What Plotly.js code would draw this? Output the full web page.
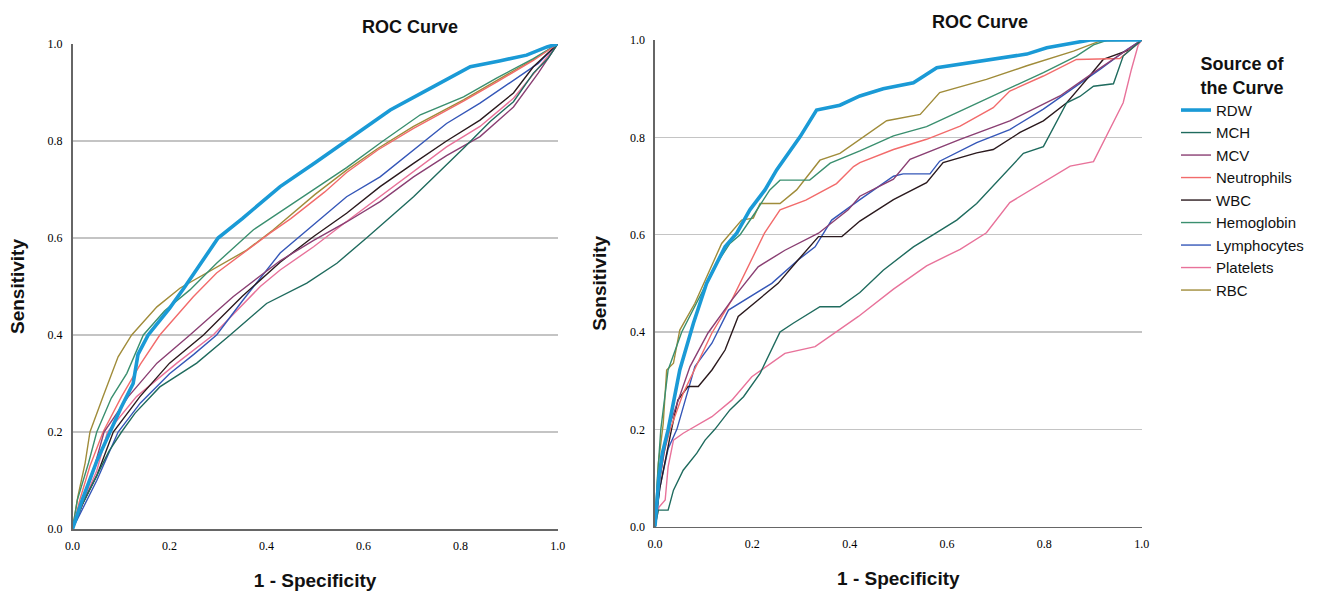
<!DOCTYPE html>
<html>
<head>
<meta charset="utf-8">
<script src="https://cdn.plot.ly/plotly-3.0.1.min.js"></script>
<style>html,body{margin:0;padding:0;background:#fff;}#chart{width:1328px;height:596px;}</style>
</head>
<body>
<div id="chart"></div>
<script>
// ---------- DATA ----------
const seriesNames = ["RDW","MCH","MCV","Neutrophils","WBC","Hemoglobin","Lymphocytes","Platelets","RBC"];
const tickLabels = ["0.0","0.2","0.4","0.6","0.8","1.0"];
const tickValues = [0,0.2,0.4,0.6,0.8,1.0];
const gridValues = [0.2,0.4,0.6,0.8];

// Left panel (1 - specificity, sensitivity)
const L_RDW_x = [0,0.02,0.05,0.077,0.1,0.125,0.135,0.156,0.2,0.232,0.26,0.3,0.35,0.428,0.5,0.565,0.655,0.744,0.82,0.88,0.936,0.978,1];
const L_RDW_y = [0,0.06,0.14,0.2,0.25,0.3,0.36,0.4,0.455,0.5,0.54,0.6,0.64,0.706,0.755,0.8,0.864,0.912,0.953,0.965,0.977,0.994,1];
const L_MCH_x = [0,0.02,0.05,0.075,0.101,0.129,0.18,0.256,0.325,0.40,0.483,0.545,0.606,0.703,0.806,0.861,0.909,0.95,0.98,1];
const L_MCH_y = [0,0.05,0.11,0.16,0.2,0.239,0.293,0.342,0.4,0.465,0.507,0.548,0.6,0.685,0.785,0.84,0.881,0.94,0.97,1];
const L_MCV_x = [0,0.02,0.04,0.065,0.115,0.174,0.242,0.331,0.428,0.497,0.565,0.634,0.703,0.771,0.84,0.909,0.96,1];
const L_MCV_y = [0,0.05,0.11,0.2,0.273,0.342,0.4,0.479,0.553,0.595,0.633,0.675,0.726,0.77,0.809,0.87,0.94,1];
const L_Neu_x = [0,0.015,0.036,0.063,0.101,0.14,0.18,0.249,0.297,0.359,0.407,0.45,0.52,0.565,0.63,0.703,0.806,0.875,0.95,1];
const L_Neu_y = [0,0.06,0.13,0.2,0.273,0.34,0.4,0.479,0.528,0.575,0.61,0.64,0.695,0.735,0.782,0.826,0.882,0.922,0.966,1];
const L_WBC_x = [0,0.02,0.05,0.084,0.139,0.2,0.27,0.35,0.428,0.497,0.565,0.634,0.703,0.771,0.84,0.909,0.95,1];
const L_WBC_y = [0,0.05,0.11,0.2,0.273,0.342,0.4,0.48,0.55,0.603,0.651,0.706,0.754,0.80,0.843,0.899,0.953,1];
const L_Hgb_x = [0,0.01,0.033,0.05,0.08,0.112,0.146,0.19,0.242,0.297,0.373,0.428,0.497,0.565,0.64,0.717,0.806,0.875,0.95,1];
const L_Hgb_y = [0,0.06,0.136,0.2,0.27,0.321,0.4,0.45,0.493,0.548,0.617,0.654,0.70,0.745,0.8,0.854,0.891,0.93,0.97,1];
const L_Lym_x = [0,0.02,0.05,0.094,0.14,0.2,0.25,0.297,0.35,0.428,0.497,0.565,0.634,0.703,0.771,0.84,0.909,0.96,1];
const L_Lym_y = [0,0.04,0.1,0.2,0.26,0.32,0.36,0.4,0.47,0.569,0.627,0.685,0.726,0.781,0.836,0.878,0.926,0.96,1];
const L_Plt_x = [0,0.02,0.05,0.072,0.132,0.215,0.29,0.387,0.428,0.497,0.565,0.634,0.703,0.771,0.84,0.909,0.96,1];
const L_Plt_y = [0,0.05,0.12,0.2,0.273,0.342,0.4,0.50,0.534,0.582,0.634,0.685,0.737,0.788,0.83,0.888,0.95,1];
const L_RBC_x = [0,0.011,0.026,0.036,0.063,0.094,0.122,0.174,0.222,0.277,0.359,0.414,0.5,0.565,0.63,0.703,0.806,0.875,0.95,1];
const L_RBC_y = [0,0.067,0.136,0.2,0.273,0.355,0.4,0.458,0.497,0.528,0.575,0.617,0.69,0.74,0.785,0.83,0.885,0.925,0.968,1];

// Right panel
const R_RDW_x = [0,0.008,0.015,0.027,0.051,0.079,0.106,0.144,0.168,0.195,0.226,0.25,0.298,0.332,0.38,0.421,0.469,0.531,0.579,0.654,0.764,0.805,0.894,1];
const R_RDW_y = [0,0.1,0.15,0.199,0.322,0.418,0.5,0.575,0.603,0.651,0.692,0.733,0.801,0.856,0.866,0.885,0.90,0.912,0.943,0.955,0.971,0.984,1,1];
const R_MCH_x = [0,0.007,0.027,0.038,0.058,0.086,0.103,0.123,0.154,0.182,0.216,0.243,0.257,0.284,0.339,0.38,0.421,0.469,0.531,0.572,0.62,0.661,0.695,0.757,0.798,0.846,0.873,0.901,0.942,0.962,1];
const R_MCH_y = [0,0.034,0.034,0.075,0.116,0.151,0.178,0.2,0.24,0.267,0.315,0.37,0.4,0.418,0.452,0.452,0.481,0.527,0.575,0.6,0.63,0.664,0.70,0.767,0.781,0.871,0.884,0.905,0.91,0.967,1];
const R_MCV_x = [0,0.01,0.027,0.072,0.109,0.158,0.212,0.267,0.336,0.397,0.421,0.49,0.524,0.627,0.729,0.832,0.901,0.962,1];
const R_MCV_y = [0,0.1,0.2,0.329,0.398,0.466,0.534,0.568,0.603,0.651,0.679,0.714,0.755,0.796,0.834,0.885,0.933,0.974,1];
const R_Neu_x = [0,0.008,0.018,0.031,0.058,0.117,0.158,0.191,0.225,0.257,0.31,0.373,0.408,0.421,0.49,0.558,0.627,0.695,0.729,0.798,0.866,0.955,1];
const R_Neu_y = [0,0.08,0.15,0.199,0.274,0.398,0.466,0.534,0.603,0.651,0.671,0.705,0.74,0.748,0.775,0.796,0.823,0.861,0.895,0.926,0.96,0.962,1];
const R_WBC_x = [0,0.01,0.034,0.047,0.068,0.089,0.117,0.144,0.171,0.212,0.253,0.294,0.336,0.384,0.421,0.49,0.558,0.592,0.661,0.695,0.75,0.798,0.846,0.887,0.921,0.976,1];
const R_WBC_y = [0,0.08,0.2,0.26,0.288,0.288,0.322,0.363,0.432,0.466,0.5,0.548,0.596,0.596,0.628,0.672,0.707,0.748,0.768,0.775,0.81,0.834,0.871,0.919,0.96,0.98,1];
const R_Hgb_x = [0,0.005,0.012,0.027,0.055,0.092,0.127,0.154,0.175,0.205,0.236,0.257,0.318,0.36,0.421,0.49,0.558,0.627,0.709,0.798,0.866,0.901,0.93,1];
const R_Hgb_y = [0,0.1,0.2,0.322,0.4,0.473,0.541,0.582,0.6,0.644,0.692,0.712,0.712,0.747,0.772,0.803,0.822,0.854,0.892,0.933,0.967,0.99,1,1];
const R_Lym_x = [0,0.01,0.027,0.045,0.082,0.117,0.151,0.185,0.24,0.294,0.329,0.363,0.421,0.49,0.51,0.565,0.585,0.661,0.729,0.798,0.866,0.915,0.969,1];
const R_Lym_y = [0,0.08,0.16,0.2,0.329,0.377,0.445,0.466,0.5,0.548,0.575,0.63,0.672,0.72,0.725,0.725,0.751,0.789,0.816,0.858,0.905,0.94,0.98,1];
const R_Plt_x = [0,0.008,0.021,0.027,0.038,0.058,0.117,0.158,0.199,0.267,0.329,0.37,0.418,0.49,0.558,0.627,0.681,0.729,0.798,0.853,0.901,0.928,0.962,0.979,0.993,1];
const R_Plt_y = [0,0.04,0.055,0.123,0.178,0.192,0.226,0.26,0.308,0.356,0.37,0.398,0.432,0.488,0.536,0.57,0.604,0.666,0.707,0.741,0.75,0.803,0.871,0.94,0.99,1];
const R_RBC_x = [0,0.004,0.007,0.017,0.024,0.038,0.051,0.082,0.11,0.137,0.178,0.202,0.216,0.257,0.291,0.318,0.339,0.38,0.421,0.476,0.545,0.585,0.681,0.764,0.86,0.915,1];
const R_RBC_y = [0,0.08,0.13,0.212,0.322,0.336,0.404,0.459,0.521,0.582,0.63,0.634,0.664,0.664,0.692,0.726,0.753,0.767,0.796,0.834,0.847,0.892,0.919,0.947,0.977,0.998,1];

const leftData = [[L_RDW_x,L_RDW_y],[L_MCH_x,L_MCH_y],[L_MCV_x,L_MCV_y],[L_Neu_x,L_Neu_y],[L_WBC_x,L_WBC_y],[L_Hgb_x,L_Hgb_y],[L_Lym_x,L_Lym_y],[L_Plt_x,L_Plt_y],[L_RBC_x,L_RBC_y]];
const rightData = [[R_RDW_x,R_RDW_y],[R_MCH_x,R_MCH_y],[R_MCV_x,R_MCV_y],[R_Neu_x,R_Neu_y],[R_WBC_x,R_WBC_y],[R_Hgb_x,R_Hgb_y],[R_Lym_x,R_Lym_y],[R_Plt_x,R_Plt_y],[R_RBC_x,R_RBC_y]];

// ---------- STYLE ----------
const colors = ["#1a9ad6","#1f6b5e","#8a3f73","#f26b6b","#2b1a1e","#3a8f6f","#3557b8","#e8729a","#a08c3a"];
const widths = [3.6,1.4,1.4,1.4,1.4,1.4,1.4,1.4,1.4];
// draw order: thin lines first, RDW last so it sits on top
const order = [8,7,6,5,4,3,2,1,0];

const traces = [];
function addPanel(data, xa, ya, showLegend){
  order.forEach(i => {
    traces.push({
      type:"scatter", mode:"lines",
      x:data[i][0], y:data[i][1],
      xaxis:xa, yaxis:ya,
      name:seriesNames[i], legendgroup:seriesNames[i],
      legendrank:i+1,
      showlegend:showLegend,
      line:{color:colors[i], width:widths[i]},
      hoverinfo:"skip"
    });
  });
}
addPanel(leftData,"x","y",true);
addPanel(rightData,"x2","y2",false);

const tickFont = {family:"Liberation Serif, Times New Roman, serif", size:12, color:"#000"};
const axTitleFont = {family:"Liberation Sans, Arial, sans-serif", size:19, color:"#111", weight:"bold"};
function xAxis(domain, anchor){
  return {domain:domain, anchor:anchor, range:[0,1], tickvals:tickValues, ticktext:tickLabels,
    showgrid:false, zeroline:false, showline:true, linecolor:"#666", linewidth:1.5,
    ticks:"", ticklabelstandoff:5, tickfont:tickFont, fixedrange:true,
    title:{text:"1 - Specificity", font:axTitleFont, standoff:22}};
}
function yAxis(domain, anchor){
  return {domain:domain, anchor:anchor, range:[0,1], tickvals:tickValues, ticktext:tickLabels,
    showgrid:false, zeroline:false, showline:true, linecolor:"#666", linewidth:1.5,
    ticks:"", ticklabelstandoff:6, tickfont:tickFont, fixedrange:true,
    minor:{tickvals:gridValues, showgrid:true, gridcolor:"#c4c4c4", gridwidth:1.3, ticks:""},
    title:{text:"Sensitivity", font:axTitleFont, standoff:18}};
}

const layout = {
  width:1328, height:596,
  margin:{l:0,r:0,t:0,b:0},
  paper_bgcolor:"#fff", plot_bgcolor:"#fff",
  font:{family:"Liberation Sans, Arial, sans-serif", color:"#111"},
  xaxis: xAxis([0.0546,0.4199],"y"),
  yaxis: yAxis([0.1124,0.9262],"x"),
  xaxis2: xAxis([0.4932,0.8597],"y2"),
  yaxis2: yAxis([0.1163,0.9329],"x2"),
  annotations:[
    {text:"<b>ROC Curve</b>", xref:"paper", yref:"paper", x:410/1328, y:1-27/596, xanchor:"center", yanchor:"middle", showarrow:false,
     font:{size:18, color:"#111"}},
    {text:"<b>ROC Curve</b>", xref:"paper", yref:"paper", x:980/1328, y:1-22/596, xanchor:"center", yanchor:"middle", showarrow:false,
     font:{size:18, color:"#111"}}
  ],
  legend:{
    x:1176/1328, y:1-47/596, xanchor:"left", yanchor:"top",
    bgcolor:"rgba(0,0,0,0)", borderwidth:0,
    font:{size:15, color:"#111"},
    traceorder:"normal",
    title:{text:"<b>Source of<br>the Curve</b>", side:"top center", font:{size:18, color:"#111"}}
  },
  showlegend:true
};

Plotly.newPlot("chart", traces, layout, {displayModeBar:false, staticPlot:true});
</script>
</body>
</html>
